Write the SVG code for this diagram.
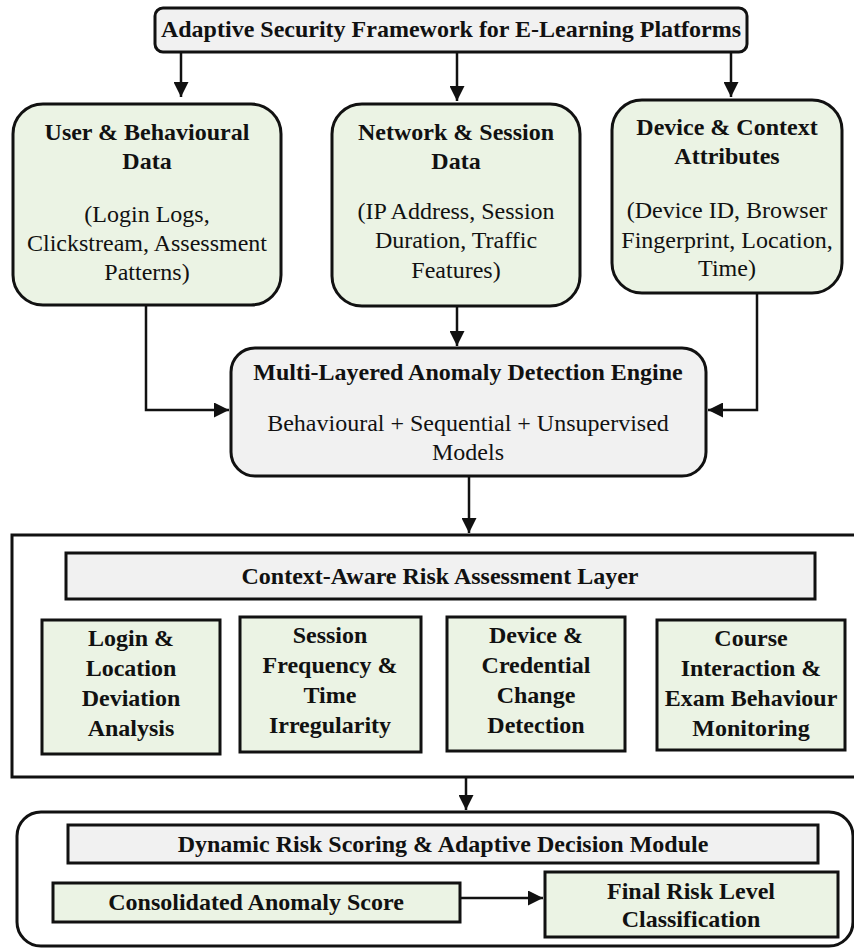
<svg xmlns="http://www.w3.org/2000/svg" width="854" height="948" viewBox="0 0 854 948">
<style>
  .t { font-family: "Liberation Serif", "Times New Roman", serif; font-size: 24px; fill: #111; text-anchor: middle; }
  .b { font-weight: bold; }
  .green { fill: #ebf3e4; stroke: #111; stroke-width: 3; }
  .grey { fill: #f1f1f1; stroke: #111; stroke-width: 3; }
  .frame { fill: none; stroke: #111; stroke-width: 3; }
  .edge { fill: none; stroke: #111; stroke-width: 2.5; }
</style>
<defs>
  <marker id="arr" viewBox="0 0 10 10" refX="10" refY="5" markerWidth="6" markerHeight="6" markerUnits="strokeWidth" orient="auto">
    <path d="M0,0 L10,5 L0,10 z" fill="#111"/>
  </marker>
</defs>
<rect width="854" height="948" fill="#fff"/>

<g id="layer-risk-frame">
  <rect class="frame" x="12" y="535" width="850" height="242"/>
</g>
<g id="layer-decision-frame">
  <rect class="frame" x="17" y="812" width="836" height="134" rx="24"/>
</g>

<g id="connectors">
  <path class="edge" d="M181,52 V97" marker-end="url(#arr)"/>
  <path class="edge" d="M457,52 V101" marker-end="url(#arr)"/>
  <path class="edge" d="M731,52 V97" marker-end="url(#arr)"/>
  <path class="edge" d="M146,305 V410 H229" marker-end="url(#arr)"/>
  <path class="edge" d="M457,306 V346" marker-end="url(#arr)"/>
  <path class="edge" d="M757,293 V410 H708" marker-end="url(#arr)"/>
  <path class="edge" d="M469,476 V533" marker-end="url(#arr)"/>
  <path class="edge" d="M466,777 V810" marker-end="url(#arr)"/>
  <path class="edge" d="M460,898 H543" marker-end="url(#arr)"/>
</g>

<g id="title">
  <rect class="grey" x="155" y="8" width="592" height="44" rx="8"/>
  <text class="t b" x="451" y="37">Adaptive Security Framework for E-Learning Platforms</text>
</g>

<g id="user-data">
  <rect class="green" x="13" y="104" width="268" height="201" rx="30"/>
  <text class="t b" x="147" y="140">User &amp; Behavioural</text>
  <text class="t b" x="147" y="169">Data</text>
  <text class="t" x="147" y="222">(Login Logs,</text>
  <text class="t" x="147" y="251">Clickstream, Assessment</text>
  <text class="t" x="147" y="280">Patterns)</text>
</g>

<g id="network-data">
  <rect class="green" x="332" y="104" width="248" height="202" rx="30"/>
  <text class="t b" x="456" y="140">Network &amp; Session</text>
  <text class="t b" x="456" y="169">Data</text>
  <text class="t" x="456" y="219">(IP Address, Session</text>
  <text class="t" x="456" y="248">Duration, Traffic</text>
  <text class="t" x="456" y="278">Features)</text>
</g>

<g id="device-data">
  <rect class="green" x="612" y="100" width="230" height="193" rx="30"/>
  <text class="t b" x="727" y="135">Device &amp; Context</text>
  <text class="t b" x="727" y="164">Attributes</text>
  <text class="t" x="727" y="218">(Device ID, Browser</text>
  <text class="t" x="727" y="248">Fingerprint, Location,</text>
  <text class="t" x="727" y="276">Time)</text>
</g>

<g id="engine">
  <rect class="grey" x="231" y="348" width="475" height="128" rx="24"/>
  <text class="t b" x="468" y="380">Multi-Layered Anomaly Detection Engine</text>
  <text class="t" x="468" y="431">Behavioural + Sequential + Unsupervised</text>
  <text class="t" x="468" y="460">Models</text>
</g>

<g id="risk-header">
  <rect class="grey" x="66" y="553" width="749" height="46"/>
  <text class="t b" x="440" y="584">Context-Aware Risk Assessment Layer</text>
</g>

<g id="login-deviation">
  <rect class="green" x="42" y="620" width="178" height="134"/>
  <text class="t b" x="131" y="646">Login &amp;</text>
  <text class="t b" x="131" y="676">Location</text>
  <text class="t b" x="131" y="706">Deviation</text>
  <text class="t b" x="131" y="736">Analysis</text>
</g>

<g id="session-frequency">
  <rect class="green" x="240" y="617" width="181" height="135"/>
  <text class="t b" x="330" y="643">Session</text>
  <text class="t b" x="330" y="673">Frequency &amp;</text>
  <text class="t b" x="330" y="703">Time</text>
  <text class="t b" x="330" y="733">Irregularity</text>
</g>

<g id="device-change">
  <rect class="green" x="447" y="617" width="178" height="134"/>
  <text class="t b" x="536" y="643">Device &amp;</text>
  <text class="t b" x="536" y="673">Credential</text>
  <text class="t b" x="536" y="703">Change</text>
  <text class="t b" x="536" y="733">Detection</text>
</g>

<g id="course-interaction">
  <rect class="green" x="657" y="620" width="188" height="130"/>
  <text class="t b" x="751" y="646">Course</text>
  <text class="t b" x="751" y="676">Interaction &amp;</text>
  <text class="t b" x="751" y="706">Exam Behaviour</text>
  <text class="t b" x="751" y="736">Monitoring</text>
</g>

<g id="decision-header">
  <rect class="grey" x="68" y="825" width="750" height="38"/>
  <text class="t b" x="443" y="852">Dynamic Risk Scoring &amp; Adaptive Decision Module</text>
</g>

<g id="consolidated-score">
  <rect class="green" x="53" y="883" width="407" height="39"/>
  <text class="t b" x="256" y="910">Consolidated Anomaly Score</text>
</g>

<g id="final-risk">
  <rect class="green" x="545" y="872" width="293" height="65"/>
  <text class="t b" x="691" y="899">Final Risk Level</text>
  <text class="t b" x="691" y="927">Classification</text>
</g>
</svg>
